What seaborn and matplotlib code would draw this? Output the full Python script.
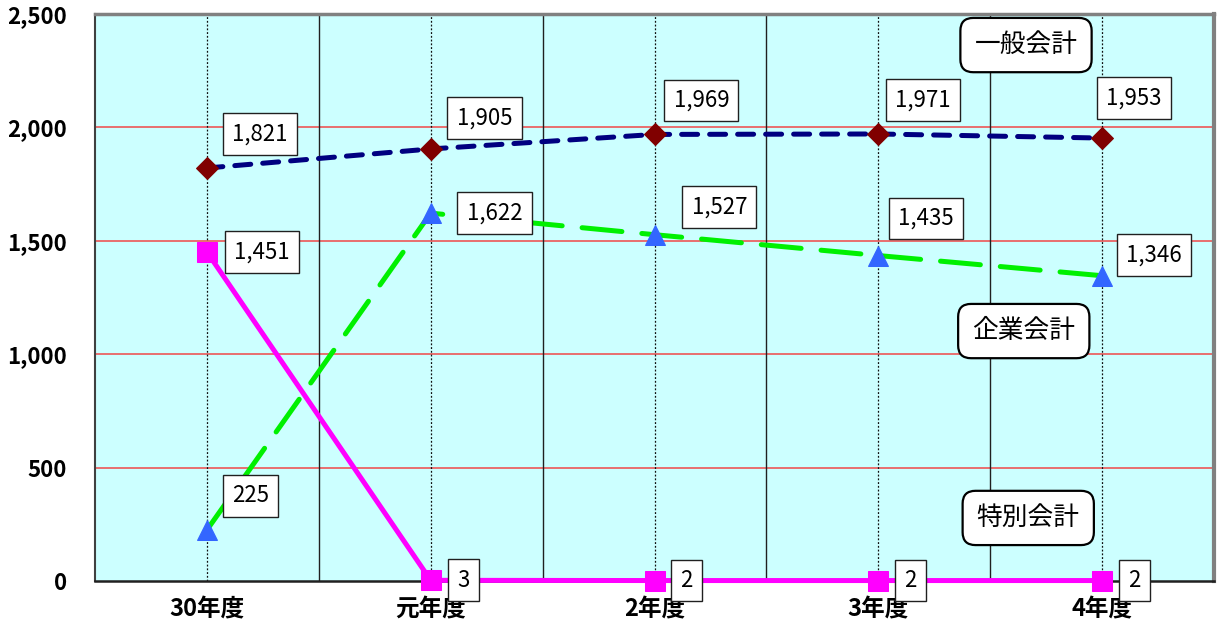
import matplotlib
matplotlib.use("Agg")
import matplotlib.pyplot as plt
import seaborn as sns
import pandas as pd
from matplotlib.ticker import FuncFormatter

# Fiscal years and the three account series
years = ["30年度", "元年度", "2年度", "3年度", "4年度"]
general = [1821, 1905, 1969, 1971, 1953]      # 一般会計
enterprise = [225, 1622, 1527, 1435, 1346]    # 企業会計
special = [1451, 3, 2, 2, 2]                  # 特別会計

# Label box placement (pixels: left edge of box from point, vertical shift)
general_off = [(16, 34), (17, 31), (10, 34), (8, 34), (-5, 40)]
enterprise_off = [(16, 34), (27, 0), (28, 28), (11, 37), (15, 21)]
special_off = [(18, 0), (18, 0), (17, 0), (17, 0), (17, 0)]

sns.set_theme(style="white")
plt.rcParams["font.family"] = ["Noto Sans CJK JP", "DejaVu Sans"]

df = pd.DataFrame({
    "x": list(range(len(years))) * 3,
    "value": general + enterprise + special,
    "account": ["一般会計"] * 5 + ["企業会計"] * 5 + ["特別会計"] * 5,
})

fig = plt.figure(figsize=(12.2, 6.29), dpi=100)
ax = fig.add_axes([95 / 1220, 48 / 629, 1119 / 1220, 567 / 629])
ax.set_facecolor("#CCFFFF")

ax.set_xlim(-0.5, len(years) - 0.5)
ax.set_ylim(0, 2500)

# Horizontal red gridlines
for yv in [500, 1000, 1500, 2000]:
    ax.axhline(yv, color="#F04848", lw=1.1, zorder=1)
# Category separators and dotted centre lines
for i in range(len(years) - 1):
    ax.axvline(i + 0.5, color="#202020", lw=1.0, zorder=1)
for i in range(len(years)):
    ax.axvline(i, color="#101010", lw=0.9, ls=(0, (1.5, 1.5)), zorder=1)

sns.lineplot(data=df[df.account == "企業会計"], x="x", y="value", ax=ax,
             color="#00F000", lw=3.6, linestyle=(0, (8, 4)),
             dash_capstyle="round",
             marker="^", markersize=15, markerfacecolor="#3366FF",
             markeredgecolor="#3366FF", zorder=3, clip_on=False, legend=False)
sns.lineplot(data=df[df.account == "特別会計"], x="x", y="value", ax=ax,
             color="#FF00FF", lw=3.6, solid_capstyle="butt",
             marker="s", markersize=14, markerfacecolor="#FF00FF",
             markeredgecolor="#FF00FF", zorder=4, clip_on=False, legend=False)
sns.lineplot(data=df[df.account == "一般会計"], x="x", y="value", ax=ax,
             color="#000080", lw=3.6, linestyle=(0, (3.2, 2.4)),
             dash_capstyle="round",
             marker="D", markersize=11, markerfacecolor="#800000",
             markeredgecolor="#800000", zorder=5, clip_on=False, legend=False)


def put_labels(values, offsets):
    for i, (v, (dx, dy)) in enumerate(zip(values, offsets)):
        ax.annotate(f"{v:,}", xy=(i, v), xytext=(dx + 9, dy),
                    textcoords="offset pixels", ha="left", va="center",
                    fontsize=16, color="black", zorder=6,
                    annotation_clip=False,
                    bbox=dict(boxstyle="square,pad=0.42", fc="white",
                              ec="#202020", lw=1.0))


put_labels(general, general_off)
put_labels(enterprise, enterprise_off)
put_labels(special, special_off)

# Series name callouts
for name, xc, yc in [("一般会計", 3.66, 2363), ("企業会計", 3.65, 1102),
                     ("特別会計", 3.67, 278)]:
    ax.text(xc, yc, name, ha="center", va="center", fontsize=18.5,
            color="black", zorder=7,
            bbox=dict(boxstyle="round,pad=0.55,rounding_size=0.5", fc="white",
                      ec="black", lw=1.6))

ax.set_xticks(range(len(years)))
ax.set_xticklabels(years, fontsize=17, fontweight="bold")
ax.set_yticks([0, 500, 1000, 1500, 2000, 2500])
ax.yaxis.set_major_formatter(FuncFormatter(lambda v, p: f"{int(v):,}"))
for lab in ax.get_yticklabels():
    lab.set_fontsize(16)
    lab.set_fontweight("bold")
ax.tick_params(axis="y", length=0, pad=20, labelcolor="black")
ax.tick_params(axis="x", length=0, pad=12, labelcolor="black")
ax.set_xlabel("")
ax.set_ylabel("")

ax.spines["left"].set_color("#404040")
ax.spines["left"].set_linewidth(1.5)
ax.spines["bottom"].set_color("#202020")
ax.spines["bottom"].set_linewidth(1.8)
ax.spines["top"].set_color("#808080")
ax.spines["top"].set_linewidth(2.5)
ax.spines["right"].set_color("#808080")
ax.spines["right"].set_linewidth(3)
for s in ax.spines.values():
    s.set_zorder(2)

fig.savefig("out.png", dpi=100, facecolor="white")
